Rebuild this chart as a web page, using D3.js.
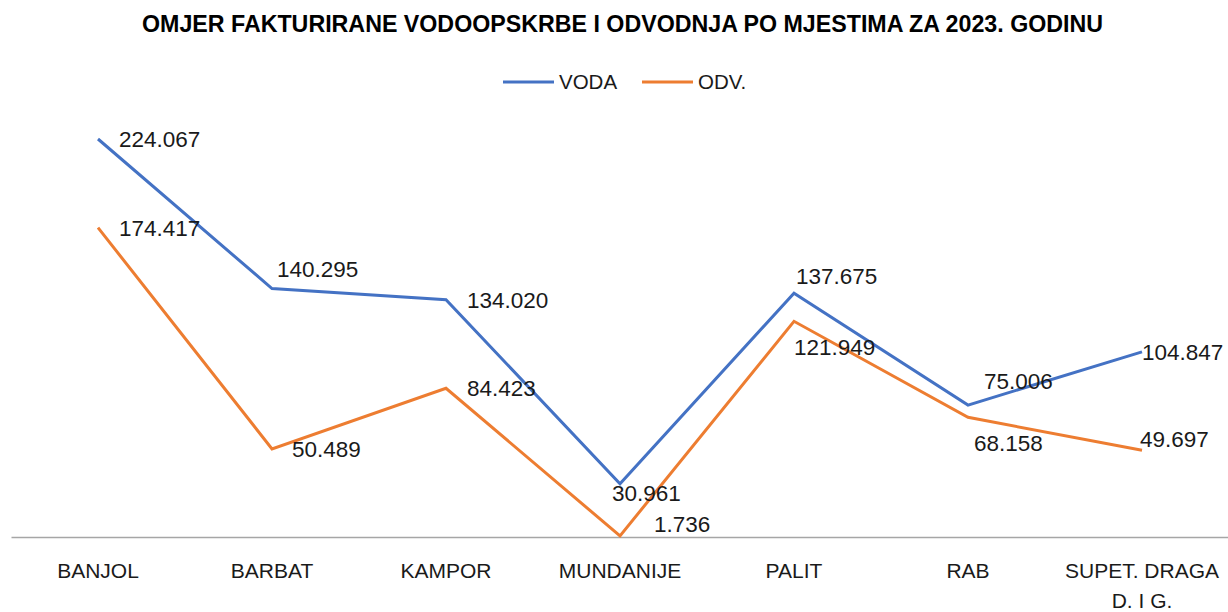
<!DOCTYPE html>
<meta charset="utf-8">
<style>
body { margin: 0; background: #fff; }
text { font-family: "Liberation Sans", Arial, sans-serif; fill: #1a1a1a; }
</style>
<body>
<script src="https://cdn.jsdelivr.net/npm/d3@7"></script>
<script>

// data
var categories = ["BANJOL", "BARBAT", "KAMPOR", "MUNDANIJE", "PALIT", "RAB", "SUPET. DRAGA D. I G."];
var voda = [224.067, 140.295, 134.020, 30.961, 137.675, 75.006, 104.847];
var odv  = [174.417, 50.489, 84.423, 1.736, 121.949, 68.158, 49.697];
var seriesNames = ["VODA", "ODV."];
var title = "OMJER FAKTURIRANE VODOOPSKRBE I ODVODNJA PO MJESTIMA ZA 2023. GODINU";

// label nudges (dx, dy from the point), like Excel put them
var vodaNudge = [[21, 0], [5, -20], [21, 0], [-8, 9], [2, -17], [16, -24], [0, 0]];
var odvNudge  = [[21, 0], [20, 0], [21, 0], [34, -12], [0, 26], [6, 26], [-2, -11]];

var width = 1228, height = 612;
var colors = ["#4472C4", "#ED7D31"];

var svg = d3.select("body").append("svg")
    .attr("width", width)
    .attr("height", height);

var x = d3.scaleBand()
    .domain(categories)
    .range([11, 1229]);

var y = d3.scaleLinear()
    .domain([0, 224.067])
    .range([539, 139]);

// title
svg.append("text")
    .attr("x", 142)
    .attr("y", 32)
    .attr("textLength", 961)
    .attr("lengthAdjust", "spacingAndGlyphs")
    .style("font-size", "23px")
    .style("font-weight", "bold")
    .style("fill", "#000")
    .text(title);

// legend
var legend = svg.selectAll(".legend")
    .data(seriesNames)
  .enter().append("g")
    .attr("class", "legend")
    .attr("transform", function(d, i) { return "translate(" + (503 + i * 139) + ",82)"; });

legend.append("line")
    .attr("x1", 0).attr("x2", 51)
    .attr("stroke", function(d, i) { return colors[i]; })
    .attr("stroke-width", 3);

legend.append("text")
    .attr("x", 56)
    .attr("dy", "0.36em")
    .style("font-size", "20.5px")
    .text(function(d) { return d; });

// x axis
var xAxis = d3.axisBottom(x).tickSize(0).tickPadding(0);
var gx = svg.append("g")
    .attr("transform", "translate(0," + 537 + ")")
    .call(xAxis);
gx.select(".domain").attr("stroke", "#a6a6a6").attr("stroke-width", 1.3);
gx.selectAll(".tick text")
    .attr("dy", null)
    .style("font-size", "21px")
    .style("font-family", "'Liberation Sans', Arial, sans-serif")
    .attr("fill", "#1a1a1a")
    .call(wrap, x.bandwidth() - 10);

function wrap(texts, w) {
  texts.each(function() {
    var t = d3.select(this),
        words = t.text().split(/\s+/),
        lines = [], line = [];
    t.text(null);
    var tsp = t.append("tspan");
    words.forEach(function(word) {
      line.push(word);
      tsp.text(line.join(" "));
      if (tsp.node().getComputedTextLength() > w && line.length > 1) {
        line.pop();
        lines.push(line.join(" "));
        line = [word];
      }
      tsp.text(line.join(" "));
    });
    lines.push(line.join(" "));
    t.text(null);
    lines.forEach(function(l, i) {
      t.append("tspan")
        .attr("x", 0)
        .attr("y", 41 + i * 30)
        .text(l);
    });
  });
}

var line = d3.line()
    .x(function(d, i) { return x(categories[i]) + x.bandwidth() / 2; })
    .y(function(d) { return y(d); });

var series = [voda, odv];
var nudges = [vodaNudge, odvNudge];

series.forEach(function(s, k) {
  svg.append("path")
      .datum(s)
      .attr("fill", "none")
      .attr("stroke", colors[k])
      .attr("stroke-width", 3)
      .attr("stroke-linejoin", "miter")
      .attr("d", line);
});

series.forEach(function(s, k) {
  svg.selectAll(".lbl" + k)
      .data(s)
    .enter().append("text")
      .attr("class", "lbl" + k)
      .attr("x", function(d, i) { return x(categories[i]) + x.bandwidth() / 2 + nudges[k][i][0]; })
      .attr("y", function(d, i) { return y(d) + nudges[k][i][1]; })
      .attr("dy", "0.36em")
      .style("font-size", "22.5px")
      .text(function(d) { return d3.format(".3f")(d); });
});

</script>
</body>
</html>
